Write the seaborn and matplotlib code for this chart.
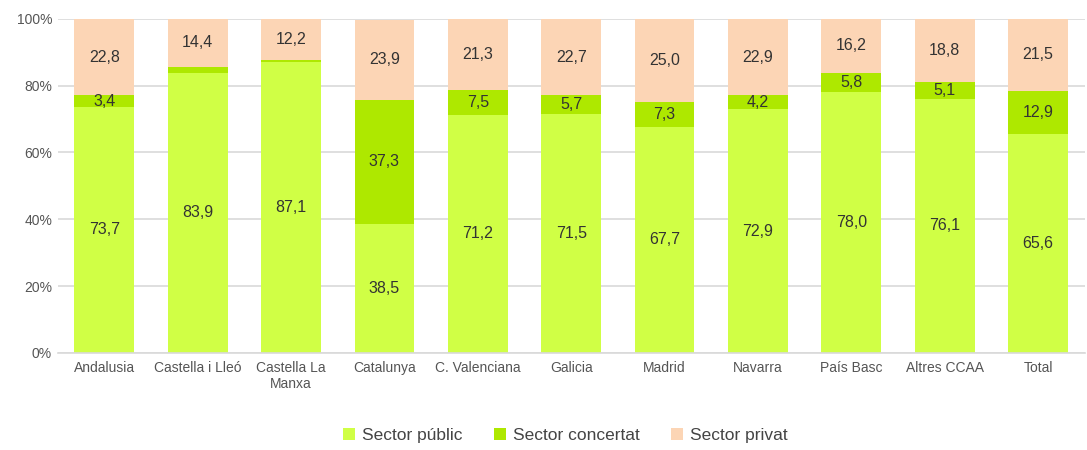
import numpy as np
import pandas as pd
import matplotlib
matplotlib.use("Agg")
import matplotlib.pyplot as plt
import seaborn as sns

# dades
categories = ['Andalusia', 'Castella i Lleó', 'Castella La\nManxa', 'Catalunya', 'C. Valenciana',
              'Galicia', 'Madrid', 'Navarra', 'País Basc', 'Altres CCAA', 'Total']
sector_public = [73.7, 83.9, 87.1, 38.5, 71.2, 71.5, 67.7, 72.9, 78.0, 76.1, 65.6]
sector_concertat = [3.4, 1.7, 0.7, 37.3, 7.5, 5.7, 7.3, 4.2, 5.8, 5.1, 12.9]
sector_privat = [22.8, 14.4, 12.2, 23.9, 21.3, 22.7, 25.0, 22.9, 16.2, 18.8, 21.5]

series = ['Sector públic', 'Sector concertat', 'Sector privat']
colors = ['#d0ff45', '#aee800', '#fcd5b5']

sns.set_style("white")
plt.rcParams['font.family'] = ['Liberation Sans', 'DejaVu Sans']

fig = plt.figure(figsize=(10.87, 4.5), dpi=100)
ax = fig.add_axes([0.053, 0.216, 0.945, 0.742])

bottom = np.zeros(len(categories))
for name, vals, col in zip(series, [sector_public, sector_concertat, sector_privat], colors):
    sns.barplot(x=categories, y=vals, bottom=bottom, color=col, width=0.64,
                label=name, ax=ax, saturation=1, linewidth=0)
    cont = ax.containers[-1]
    # valors petits sense etiqueta, com a l'original
    labels = [f"{v:.1f}".replace('.', ',') if v >= 3 else '' for v in vals]
    ax.bar_label(cont, labels=labels, label_type='center', fontsize=11.5, color='#333333')
    bottom = bottom + np.array(vals)

ax.set_ylim(0, 100)
ax.set_xlim(-0.5, len(categories) - 0.5)
ax.set_yticks(range(0, 101, 20))
ax.set_yticklabels([f"{t}%" for t in range(0, 101, 20)], fontsize=10, color='#555555')
ax.tick_params(axis='x', labelsize=10, colors='#555555', length=0, pad=6)
ax.tick_params(axis='y', length=0, pad=4)
ax.yaxis.grid(True, color='#d9d9d9', linewidth=1.2)
ax.set_axisbelow(True)
for s in ['top', 'right', 'left']:
    ax.spines[s].set_visible(False)
ax.spines['bottom'].set_color('#d9d9d9')
ax.spines['bottom'].set_linewidth(1.2)

handles, labels_ = ax.get_legend_handles_labels()
if ax.get_legend() is not None:
    ax.get_legend().remove()
fig.legend(handles, labels_, loc='center', bbox_to_anchor=(0.52, 0.032), ncol=3, frameon=False,
           fontsize=12.5, handlelength=0.7, handleheight=0.7, columnspacing=1.8,
           handletextpad=0.4, labelcolor='#444444')

fig.savefig('out.png', dpi=100)
